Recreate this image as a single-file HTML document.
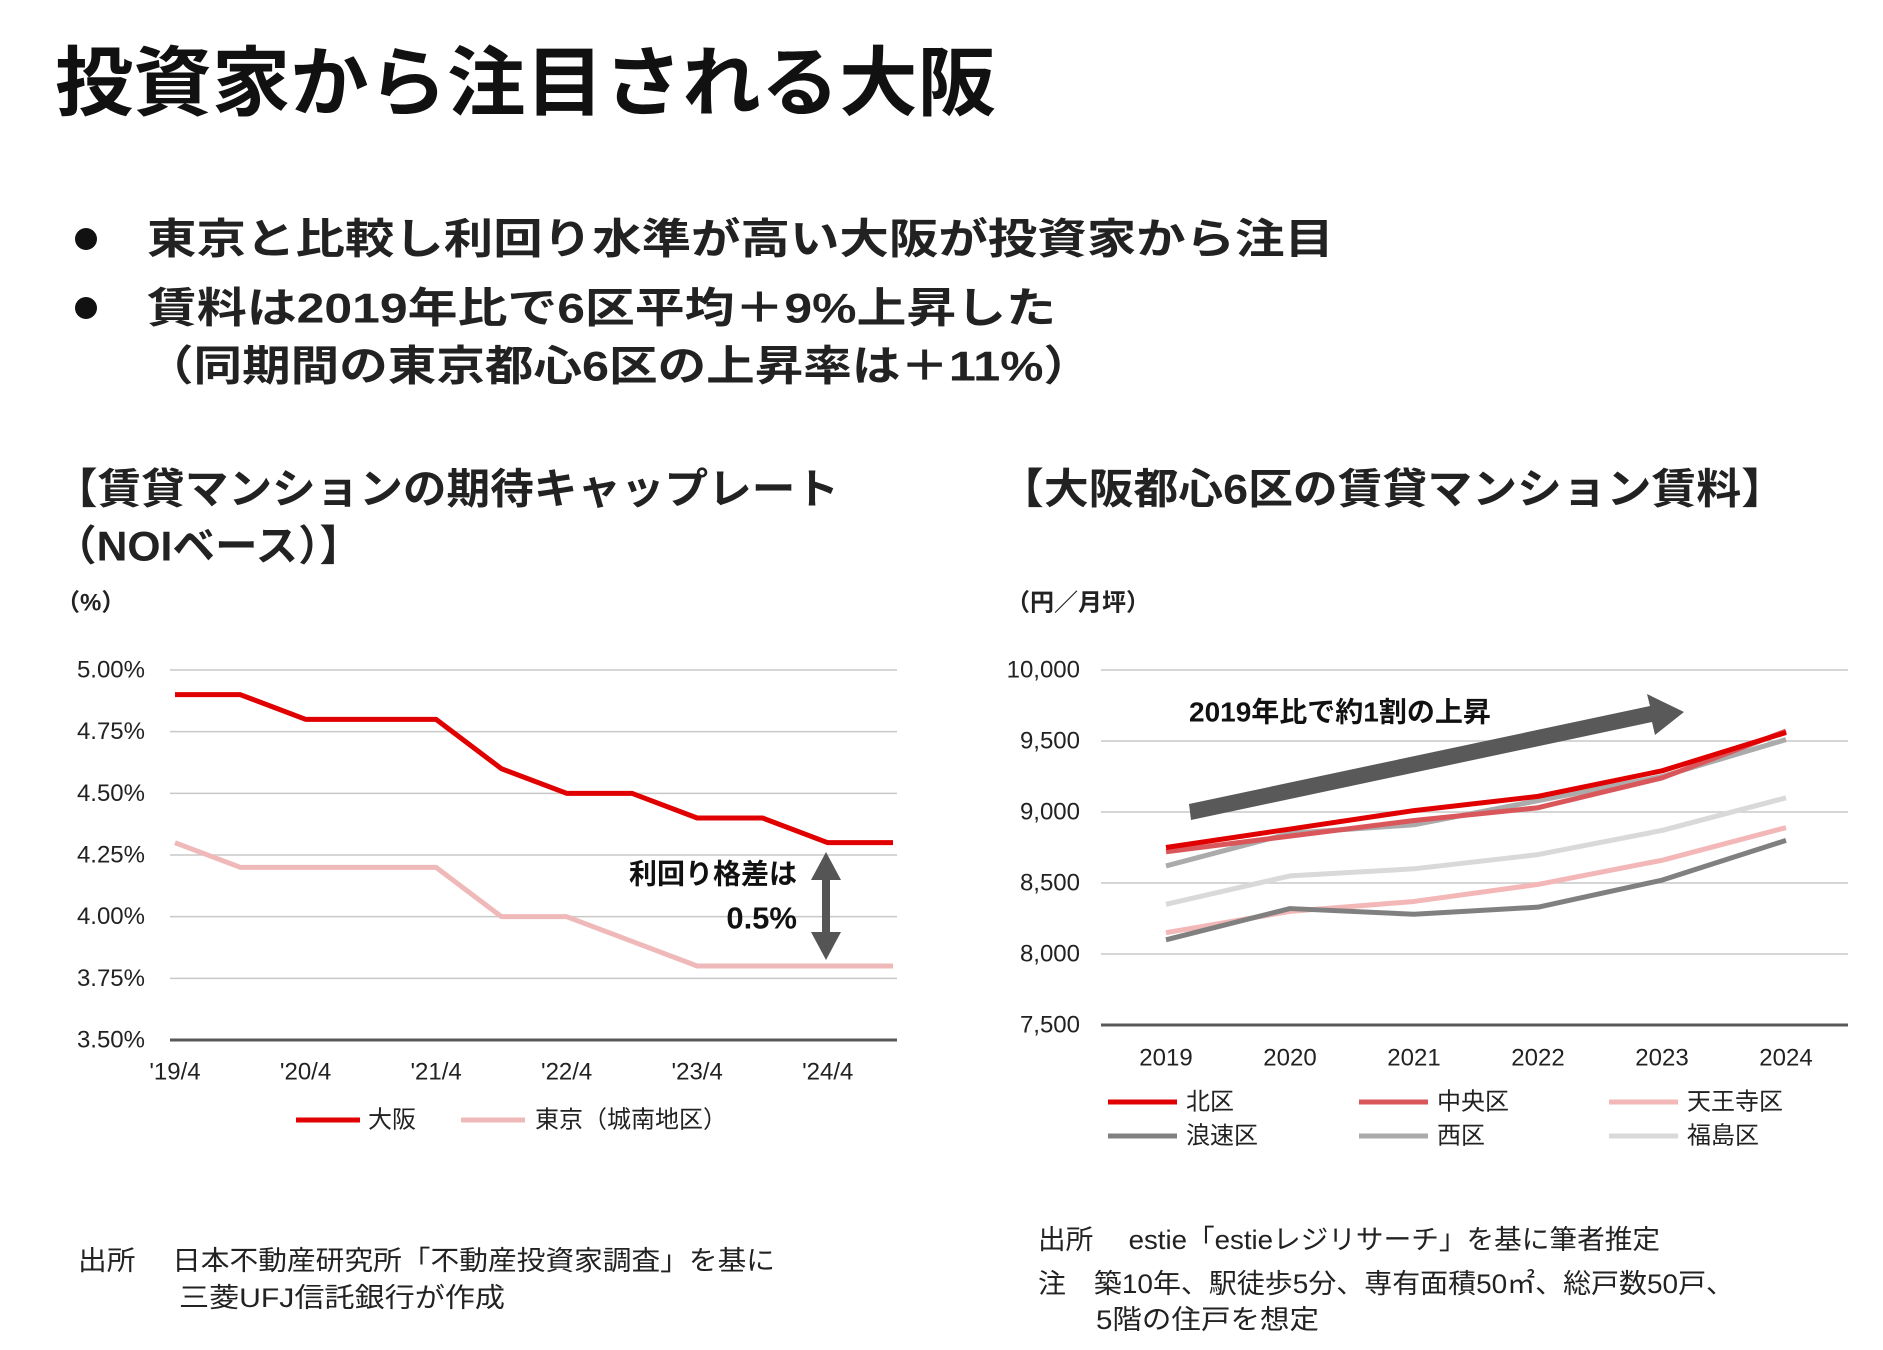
<!DOCTYPE html>
<html><head><meta charset="utf-8"><style>
html,body{margin:0;padding:0;background:#fff;}
svg{display:block;font-family:"Liberation Sans","Noto Sans CJK JP",sans-serif;}
</style></head><body>
<svg id="s" width="1883" height="1350" viewBox="0 0 1883 1350" xmlns="http://www.w3.org/2000/svg">
<text x="55" y="84" font-size="76" font-weight="bold" dominant-baseline="central" fill="#111" textLength="941" lengthAdjust="spacingAndGlyphs">投資家から注目される大阪</text>
<g font-size="42" font-weight="bold" fill="#222" dominant-baseline="central">
<circle cx="86" cy="239" r="11" fill="#111"/>
<text x="147" y="239" textLength="1187" lengthAdjust="spacingAndGlyphs">東京と比較し利回り水準が高い大阪が投資家から注目</text>
<circle cx="86" cy="308" r="11" fill="#111"/>
<text x="147" y="308" textLength="909" lengthAdjust="spacingAndGlyphs">賃料は2019年比で6区平均＋9%上昇した</text>
<text x="145" y="366" textLength="947" lengthAdjust="spacingAndGlyphs">（同期間の東京都心6区の上昇率は＋11%）</text>
</g>
<g font-size="42" font-weight="bold" fill="#222" dominant-baseline="central">
<text x="54" y="489" textLength="785" lengthAdjust="spacingAndGlyphs">【賃貸マンションの期待キャップレート</text>
<text x="54" y="546" textLength="308" lengthAdjust="spacingAndGlyphs">（NOIベース）】</text>
<text x="999" y="489" textLength="787" lengthAdjust="spacingAndGlyphs">【大阪都心6区の賃貸マンション賃料】</text>
</g>
<text x="56" y="603" font-size="24" font-weight="bold" fill="#222" dominant-baseline="central">（%）</text>
<text x="1006" y="603" font-size="24" font-weight="bold" fill="#222" dominant-baseline="central">（円／月坪）</text>
<g id="left"></g>
<g id="right"></g>
<g font-size="27" fill="#222" dominant-baseline="central">
<text x="78" y="1261" textLength="697" lengthAdjust="spacingAndGlyphs">出所　 日本不動産研究所「不動産投資家調査」を基に</text>
<text x="179" y="1298" textLength="326" lengthAdjust="spacingAndGlyphs">三菱UFJ信託銀行が作成</text>
<text x="1038" y="1240" textLength="622" lengthAdjust="spacingAndGlyphs">出所　 estie「estieレジリサーチ」を基に筆者推定</text>
<text x="1038" y="1284" textLength="696" lengthAdjust="spacingAndGlyphs">注　築10年、駅徒歩5分、専有面積50㎡、総戸数50戸、</text>
<text x="1096" y="1320" textLength="223" lengthAdjust="spacingAndGlyphs">5階の住戸を想定</text>
</g>
</svg>
<script>
const NS="http://www.w3.org/2000/svg";
// Left chart data
const capDates=["'19/4","'19/10","'20/4","'20/10","'21/4","'21/10","'22/4","'22/10","'23/4","'23/10","'24/4","'24/10"];
const capTickLabels=["'19/4","'20/4","'21/4","'22/4","'23/4","'24/4"];
const osakaCap=[4.9,4.9,4.8,4.8,4.8,4.6,4.5,4.5,4.4,4.4,4.3,4.3];
const tokyoCap=[4.3,4.2,4.2,4.2,4.2,4.0,4.0,3.9,3.8,3.8,3.8,3.8];
const capYTicks=[3.5,3.75,4.0,4.25,4.5,4.75,5.0];
// Right chart data
const rentYears=["2019","2020","2021","2022","2023","2024"];
const rentKita=[8750,8880,9010,9110,9290,9560];
const rentChuo=[8720,8830,8940,9030,9240,9570];
const rentTennoji=[8150,8300,8370,8490,8660,8890];
const rentNaniwa=[8100,8320,8280,8330,8520,8800];
const rentNishi=[8620,8850,8910,9080,9250,9510];
const rentFukushima=[8350,8550,8600,8700,8870,9100];
const rentYTicks=[7500,8000,8500,9000,9500,10000];

function mk(tag,attrs,parent){const e=document.createElementNS(NS,tag);for(const k in attrs)e.setAttribute(k,attrs[k]);parent.appendChild(e);return e;}

// left
const L=document.getElementById('left');
const lx=i=>175+i*(893-175)/(capDates.length-1);
const ly=v=>1040-(v-3.5)/(5.0-3.5)*(1040-670);
capYTicks.forEach(t=>{
  const g=mk('line',{x1:170,x2:897,y1:ly(t),y2:ly(t),stroke:t===3.5?'#595959':'#c8c8c8','stroke-width':t===3.5?3:1.5},L);
  
  
  const tx=mk('text',{x:145,y:ly(t),'font-size':24,'text-anchor':'end','dominant-baseline':'central',fill:'#222'},L);
  tx.textContent=t.toFixed(2)+'%';
  
  
});
capTickLabels.forEach((lab,i)=>{
  const tx=mk('text',{x:lx(i*2),y:1072,'font-size':24,'text-anchor':'middle','dominant-baseline':'central',fill:'#222'},L);
  tx.textContent=lab;
  
  
});
function lineL(arr,col,name){
  const p=mk('polyline',{points:arr.map((v,i)=>lx(i)+','+ly(v)).join(' '),fill:'none',stroke:col,'stroke-width':5,'stroke-linejoin':'round'},L);
  
  
}
lineL(tokyoCap,'#f0b9b9','tokyo-line');
lineL(osakaCap,'#e00000','osaka-line');
[[296,368,'#e00000','大阪','legend-osaka'],[461,535,'#f0b9b9','東京（城南地区）','legend-tokyo']].forEach(d=>{
  const ln=mk('line',{x1:d[0],x2:d[0]+64,y1:1120,y2:1120,stroke:d[2],'stroke-width':5},L);
  
  
  const t=mk('text',{x:d[1],y:1120,'font-size':24,'dominant-baseline':'central',fill:'#222'},L);
  t.textContent=d[3];
  
  
});
const a1=mk('text',{x:797,y:874,'font-size':28,'font-weight':'bold','text-anchor':'end','dominant-baseline':'central',fill:'#111'},L);
a1.textContent='利回り格差は';


const a2=mk('text',{x:797,y:918,'font-size':31,'font-weight':'bold','text-anchor':'end','dominant-baseline':'central',fill:'#111'},L);
a2.textContent='0.5%';


const arr=mk('path',{d:'M826 852 L841 880 L830 880 L830 932 L841 932 L826 960 L811 932 L822 932 L822 880 L811 880 Z',fill:'#555'},L);



// right
const R=document.getElementById('right');
const rx=i=>1166+i*(1786-1166)/(rentYears.length-1);
const ry=v=>1025-(v-7500)/(10000-7500)*(1025-670);
rentYTicks.forEach(t=>{
  const g=mk('line',{x1:1101,x2:1848,y1:ry(t),y2:ry(t),stroke:t===7500?'#595959':'#c8c8c8','stroke-width':t===7500?3:1.5},R);
  
  
  const tx=mk('text',{x:1080,y:ry(t),'font-size':24,'text-anchor':'end','dominant-baseline':'central',fill:'#222'},R);
  tx.textContent=t.toLocaleString('en-US');
  
  
});
rentYears.forEach((y,i)=>{
  const tx=mk('text',{x:rx(i),y:1058,'font-size':24,'text-anchor':'middle','dominant-baseline':'central',fill:'#222'},R);
  tx.textContent=y;
  
  
});
const bigArrow=mk('path',{d:'M1189 804 L1650 706 L1647 694 L1684 712 L1655 735 L1652 722 L1191 820 Z',fill:'#595959'},R);


const at=mk('text',{x:1189,y:712,'font-size':28,'font-weight':'bold','dominant-baseline':'central',fill:'#111'},R);
at.textContent='2019年比で約1割の上昇';


const defs=[
  [rentFukushima,'#d9d9d9','福島区','fukushima'],
  [rentTennoji,'#f3b7b7','天王寺区','tennoji'],
  [rentNaniwa,'#808080','浪速区','naniwa'],
  [rentNishi,'#ababab','西区','nishi'],
  [rentChuo,'#d9575b','中央区','chuo'],
  [rentKita,'#e00000','北区','kita']
];
defs.forEach(d=>{
  const p=mk('polyline',{points:d[0].map((v,i)=>rx(i)+','+ry(v)).join(' '),fill:'none',stroke:d[1],'stroke-width':5,'stroke-linejoin':'round'},R);
  
  
});
const leg=[
  ['kita',1108,1102],['chuo',1359,1102],['tennoji',1609,1102],
  ['naniwa',1108,1136],['nishi',1359,1136],['fukushima',1609,1136]
];
leg.forEach(l=>{
  const d=defs.find(x=>x[3]===l[0]);
  const ln=mk('line',{x1:l[1],x2:l[1]+69,y1:l[2],y2:l[2],stroke:d[1],'stroke-width':5},R);
  
  
  const t=mk('text',{x:l[1]+78,y:l[2],'font-size':24,'dominant-baseline':'central',fill:'#222'},R);
  t.textContent=d[2];
  
  
});
</script>
</body></html>
